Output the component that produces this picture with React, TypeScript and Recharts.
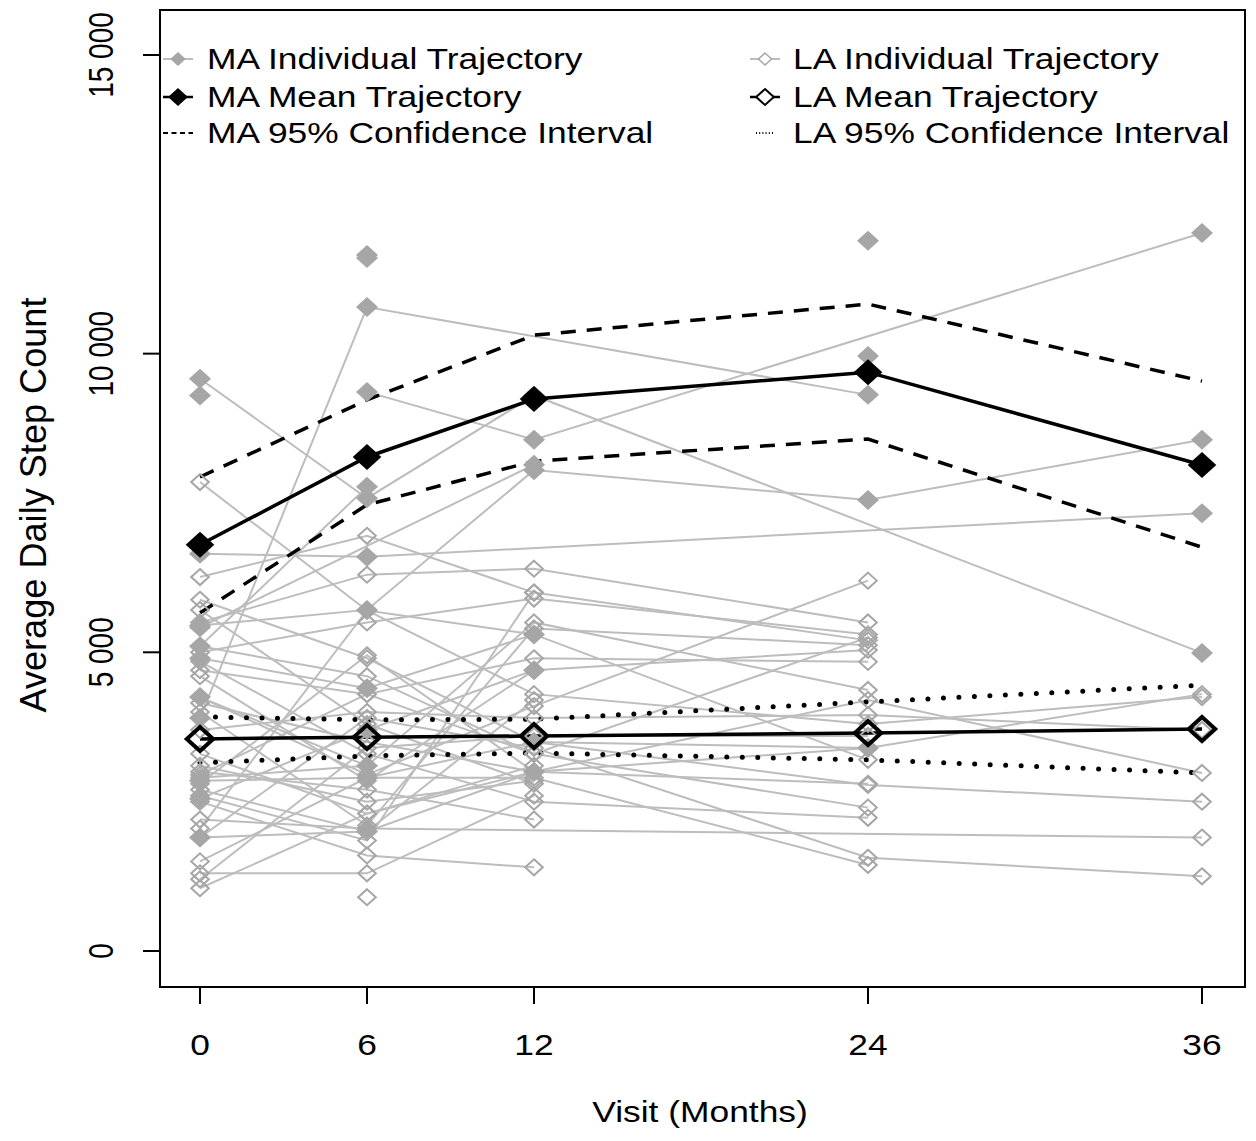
import React from "react";
import { ComposedChart, Line, XAxis, YAxis, ReferenceArea } from "recharts";

const VISITS = [0, 6, 12, 24, 36];
const Y_TICKS = [0, 5000, 10000, 15000];
const Y_TICK_LABELS = ["0", "5 000", "10 000", "15 000"];

// mean trajectories and 95% CI, one value per visit
const MA_MEAN = [6800, 8270, 9240, 9690, 8135];
const MA_UPPER = [7935, 9225, 10310, 10830, 9540];
const MA_LOWER = [5660, 7470, 8200, 8570, 6760];
const LA_MEAN = [3550, 3580, 3600, 3650, 3715];
const LA_UPPER = [3920, 3870, 3880, 4170, 4450];
const LA_LOWER = [3150, 3265, 3315, 3200, 2980];

// individual trajectories (null = missed visit)
const MA_INDIVIDUAL: (number | null)[][] = [
  [9580, 7580, 9300, null, 4990],
  [9300, null, null, null, null],
  [null, 11650, null, null, null],
  [null, 11600, null, null, null],
  [3900, 10780, null, 9310, null],
  [6650, 6600, null, null, 7330],
  [5420, null, 8140, null, null],
  [null, 9360, 8560, null, 12020],
  [5450, 5710, 8050, 7550, 8560],
  [5100, 7770, null, null, null],
  [null, null, null, 11890, null],
  [null, null, null, 9960, null],
  [4900, 4400, 5300, null, null],
  [2850, 2900, 3500, 3400, null],
  [2550, 3700, 4700, null, null],
  [1900, 2000, 3000, null, null],
  [4250, 3100, null, null, null],
];

const LA_INDIVIDUAL: (number | null)[][] = [
  [7850, 5700, 4300, 3800, 4250],
  [6260, 6950, 6000, 5200, null],
  [5880, 4900, 3500, 2780, 2500],
  [5710, 3800, 2800, null, null],
  [5500, 6300, 6400, 5500, null],
  [5100, 4600, 3300, 2400, null],
  [5000, 5500, 5900, 5300, null],
  [4850, 3300, 2500, 2230, null],
  [4700, 4300, 4900, 4840, null],
  [4600, 2850, 4700, 5040, null],
  [4250, 2950, 4100, 6200, null],
  [4150, 3500, 3000, 2800, null],
  [4000, 2100, 5400, 5120, null],
  [3700, 4000, 3900, 3950, 3700],
  [3300, 2300, 3000, 3400, 4300],
  [3000, 2700, 2200, null, null],
  [2900, 3100, 5500, 4370, null],
  [2800, 4950, 3000, 4200, 2980],
  [2700, 2000, 4200, null, null],
  [2600, 1850, 6000, null, null],
  [2500, 1600, 1400, null, null],
  [2200, 2050, null, null, 1900],
  [2050, 5700, 5300, 3200, null],
  [1900, 3900, 3400, 1560, 1250],
  [1500, 2900, 2900, 1440, null],
  [1300, 1300, 2600, null, null],
  [1200, 3400, 3600, 3600, null],
  [1050, 2300, 3100, null, null],
  [null, 900, null, null, null],
  [2950, 4300, 3300, 5250, null],
  [3100, 2500, 2850, null, null],
];

const X_DOMAIN: [number, number] = [-1.437, 37.545];
const Y_DOMAIN: [number, number] = [-603, 15753];

const FONT = "'Liberation Sans', Arial, sans-serif";
const SX = 1.22;
const FS = 29;
const LINE_GRAY = "#bdbdbd";
const MARK_GRAY = "#a6a6a6";

const toPoints = (vals: (number | null)[]) =>
  VISITS.map((x, i) => ({ x, v: vals[i] })).filter((p) => p.v != null);

function Diamond({ cx, cy, r, fill, stroke, sw }: any) {
  if (cx == null || cy == null) return null;
  const rx = r * 1.1;
  return (
    <polygon
      points={`${cx},${cy - r} ${cx + rx},${cy} ${cx},${cy + r} ${cx - rx},${cy}`}
      fill={fill}
      stroke={stroke}
      strokeWidth={sw}
    />
  );
}

const dotMaker = (r: number, fill: string, stroke: string, sw: number) => (p: any) => (
  <Diamond key={`d${p.index}`} cx={p.cx} cy={p.cy} r={r} fill={fill} stroke={stroke} sw={sw} />
);

function XTick({ x, payload }: any) {
  return (
    <text transform={`translate(${x},1055) scale(${SX},1)`} textAnchor="middle" fontSize={FS} fontFamily={FONT} fill="#000">
      {payload.value}
    </text>
  );
}

function YTick({ y, payload }: any) {
  const label = Y_TICK_LABELS[Y_TICKS.indexOf(payload.value)] ?? String(payload.value);
  return (
    <text transform={`translate(113,${y}) scale(${SX},1) rotate(-90)`} textAnchor="middle" fontSize={28} fontFamily={FONT} fill="#000">
      {label}
    </text>
  );
}

function LegendOverlay() {
  const rows = [59, 97, 133];
  const txt = (x: number, y: number, s: string) => (
    <text transform={`translate(${x},${y + 10}) scale(${SX},1)`} fontSize={FS} fontFamily={FONT} fill="#000">
      {s}
    </text>
  );
  const icon = (x: number, y: number, kind: string) => {
    const x1 = x, x2 = x + 30, cx = x + 15;
    if (kind === "maInd")
      return (
        <g>
          <line x1={x1} x2={x2} y1={y} y2={y} stroke={LINE_GRAY} strokeWidth={2} />
          <Diamond cx={cx} cy={y} r={7} fill={MARK_GRAY} stroke="none" sw={0} />
        </g>
      );
    if (kind === "laInd")
      return (
        <g>
          <line x1={x1} x2={x2} y1={y} y2={y} stroke={LINE_GRAY} strokeWidth={2} />
          <Diamond cx={cx} cy={y} r={6} fill="#fff" stroke={MARK_GRAY} sw={1.5} />
        </g>
      );
    if (kind === "maMean")
      return (
        <g>
          <line x1={x1} x2={x2} y1={y} y2={y} stroke="#000" strokeWidth={2.5} />
          <Diamond cx={cx} cy={y} r={9} fill="#000" stroke="none" sw={0} />
        </g>
      );
    if (kind === "laMean")
      return (
        <g>
          <line x1={x1} x2={x2} y1={y} y2={y} stroke="#000" strokeWidth={2.5} />
          <Diamond cx={cx} cy={y} r={8} fill="#fff" stroke="#000" sw={2} />
        </g>
      );
    if (kind === "maCi")
      return <line x1={x1} x2={x2} y1={y} y2={y} stroke="#000" strokeWidth={2} strokeDasharray="5 3.5" />;
    return <line x1={x1 + 6} x2={x2 - 6} y1={y} y2={y} stroke="#000" strokeWidth={2} strokeDasharray="1 2.2" />;
  };
  return (
    <svg width={1256} height={200} style={{ position: "absolute", left: 0, top: 0, pointerEvents: "none" }}>
      {icon(163, rows[0], "maInd")}
      {txt(207, rows[0], "MA Individual Trajectory")}
      {icon(163, rows[1], "maMean")}
      {txt(207, rows[1], "MA Mean Trajectory")}
      {icon(163, rows[2], "maCi")}
      {txt(207, rows[2], "MA 95% Confidence Interval")}
      {icon(750, rows[0], "laInd")}
      {txt(793, rows[0], "LA Individual Trajectory")}
      {icon(750, rows[1], "laMean")}
      {txt(793, rows[1], "LA Mean Trajectory")}
      {icon(750, rows[2], "laCi")}
      {txt(793, rows[2], "LA 95% Confidence Interval")}
    </svg>
  );
}

export default function App() {
  return (
    <div style={{ position: "absolute", left: 0, top: 0, width: 1256, height: 1141, background: "#fff" }}>
      <ComposedChart width={1256} height={1141} margin={{ top: 10, right: 11, left: 0, bottom: 54 }}>
        <XAxis
          type="number"
          dataKey="x"
          domain={X_DOMAIN}
          ticks={VISITS}
          allowDataOverflow
          height={100}
          tickSize={17}
          axisLine={false}
          tickLine={{ stroke: "#000", strokeWidth: 2 }}
          tick={<XTick />}
          interval={0}
        />
        <YAxis
          type="number"
          domain={Y_DOMAIN}
          ticks={Y_TICKS}
          allowDataOverflow
          width={160}
          tickSize={17}
          axisLine={false}
          tickLine={{ stroke: "#000", strokeWidth: 2 }}
          tick={<YTick />}
          interval={0}
        />
        {LA_INDIVIDUAL.map((row, i) => (
          <Line
            key={`la${i}`}
            data={toPoints(row)}
            dataKey="v"
            type="linear"
            stroke={LINE_GRAY}
            strokeWidth={2}
            dot={dotMaker(8, "none", MARK_GRAY, 2)}
            activeDot={false}
            isAnimationActive={false}
          />
        ))}
        {MA_INDIVIDUAL.map((row, i) => (
          <Line
            key={`ma${i}`}
            data={toPoints(row)}
            dataKey="v"
            type="linear"
            stroke={LINE_GRAY}
            strokeWidth={2}
            dot={dotMaker(10, MARK_GRAY, "none", 0)}
            activeDot={false}
            isAnimationActive={false}
          />
        ))}
        <Line data={toPoints(MA_UPPER)} dataKey="v" stroke="#000" strokeWidth={3.5} strokeDasharray="15 11" dot={false} activeDot={false} isAnimationActive={false} />
        <Line data={toPoints(MA_LOWER)} dataKey="v" stroke="#000" strokeWidth={3.5} strokeDasharray="15 11" dot={false} activeDot={false} isAnimationActive={false} />
        <Line data={toPoints(LA_UPPER)} dataKey="v" stroke="#000" strokeWidth={5} strokeLinecap="round" strokeDasharray="0 15.5" dot={false} activeDot={false} isAnimationActive={false} />
        <Line data={toPoints(LA_LOWER)} dataKey="v" stroke="#000" strokeWidth={5} strokeLinecap="round" strokeDasharray="0 15.5" dot={false} activeDot={false} isAnimationActive={false} />
        <Line data={toPoints(MA_MEAN)} dataKey="v" stroke="#000" strokeWidth={3.5} dot={dotMaker(13, "#000", "none", 0)} activeDot={false} isAnimationActive={false} />
        <Line data={toPoints(LA_MEAN)} dataKey="v" stroke="#000" strokeWidth={3.5} dot={dotMaker(12, "none", "#000", 4)} activeDot={false} isAnimationActive={false} />
        <ReferenceArea
          x1={X_DOMAIN[0]}
          x2={X_DOMAIN[1]}
          y1={Y_DOMAIN[0]}
          y2={Y_DOMAIN[1]}
          fill="none"
          stroke="#000"
          strokeWidth={2}
          ifOverflow="visible"
        />
        <text transform={`translate(700,1122) scale(${SX},1)`} textAnchor="middle" fontSize={FS} fontFamily={FONT} fill="#000">
          Visit (Months)
        </text>
        <text transform={`translate(46,505) scale(${SX},1) rotate(-90)`} textAnchor="middle" fontSize={30} fontFamily={FONT} fill="#000" textLength={415} lengthAdjust="spacingAndGlyphs">
          Average Daily Step Count
        </text>
      </ComposedChart>
      <LegendOverlay />
    </div>
  );
}
